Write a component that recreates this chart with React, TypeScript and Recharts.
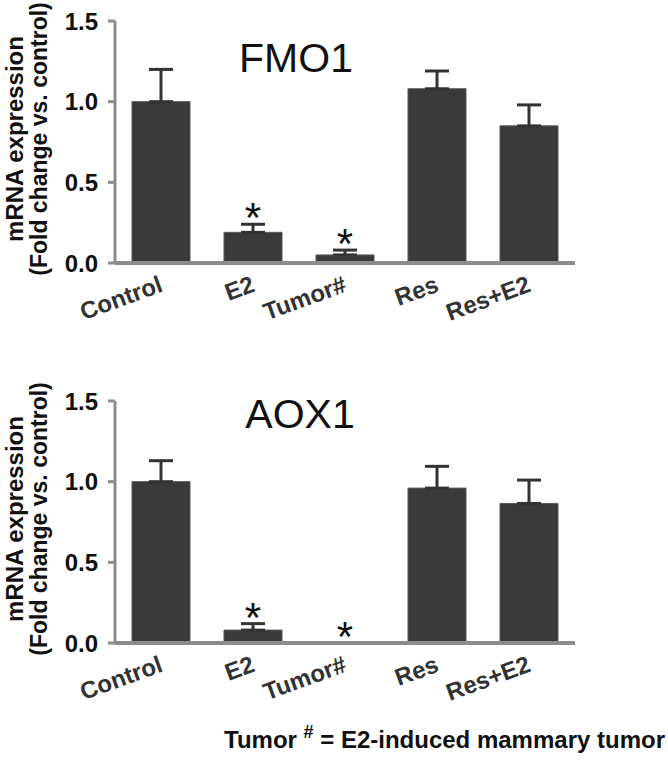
import { Bar, ComposedChart, ErrorBar, Line, XAxis, YAxis } from "recharts";

const groups = ["Control", "E2", "Tumor#", "Res", "Res+E2"];

const fmo1Mean = [1.0, 0.19, 0.05, 1.08, 0.85];
const fmo1Err = [0.2, 0.05, 0.03, 0.11, 0.13];
const fmo1Sig = [false, true, true, false, false];

const aox1Mean = [1.0, 0.08, 0.003, 0.96, 0.865];
const aox1Err = [0.13, 0.04, 0, 0.135, 0.145];
const aox1Sig = [false, true, true, false, false];

const yTicks = [0, 0.5, 1.0, 1.5];

const FONT = '"Liberation Sans", Arial, sans-serif';
const AXIS = "#8c8c8c";
const BAR = "#3a3a3a";

function buildRows(mean: number[], err: number[], sig: boolean[]) {
  return groups.map((g, i) => ({
    group: g,
    mean: mean[i],
    err: [0, err[i]],
    star: sig[i] ? mean[i] + err[i] : null,
  }));
}

const fmo1Data = buildRows(fmo1Mean, fmo1Err, fmo1Sig);
const aox1Data = buildRows(aox1Mean, aox1Err, aox1Sig);

function GroupTick(props: any) {
  const { x, y, payload } = props;
  return (
    <g transform={`translate(${x + 3},${y + 28}) rotate(-20)`}>
      <text
        x={0}
        y={0}
        textAnchor="end"
        fill="#333"
        fontFamily={FONT}
        fontWeight="bold"
        fontSize={24}
      >
        {payload.value}
      </text>
    </g>
  );
}

function Star(props: any) {
  const { cx, cy, index } = props;
  if (cy == null || cx == null) return <g key={`s-${index}`} />;
  return (
    <text
      key={`s-${index}`}
      x={cx}
      y={cy + 8}
      textAnchor="middle"
      fontFamily={FONT}
      fontSize={42}
      fill="#111"
    >
      *
    </text>
  );
}

function Panel({ data }: { data: any[] }) {
  return (
    <ComposedChart
      width={668}
      height={380}
      data={data}
      margin={{ top: 21, right: 93, bottom: 57, left: 0 }}
    >
      <XAxis
        dataKey="group"
        height={60}
        interval={0}
        tickLine={false}
        tickSize={0}
        tickMargin={0}
        axisLine={{ stroke: AXIS, strokeWidth: 4 }}
        tick={<GroupTick />}
      />
      <YAxis
        width={115}
        domain={[0, 1.5]}
        ticks={yTicks}
        interval={0}
        tickFormatter={(v: number) => v.toFixed(1)}
        tickSize={7}
        tickMargin={10}
        axisLine={{ stroke: AXIS, strokeWidth: 3 }}
        tickLine={{ stroke: AXIS, strokeWidth: 3 }}
        tick={{ fill: "#111", fontSize: 24, fontWeight: "bold", fontFamily: FONT }}
      />
      <Bar dataKey="mean" fill={BAR} stroke="#555" strokeWidth={1} barSize={58} isAnimationActive={false}>
        <ErrorBar dataKey="err" direction="y" width={12} strokeWidth={3} stroke="#333" />
      </Bar>
      <Line
        dataKey="star"
        stroke="none"
        dot={(p: any) => <Star {...p} />}
        activeDot={false}
        legendType="none"
        isAnimationActive={false}
      />
    </ComposedChart>
  );
}

function YLabel({ top }: { top: number }) {
  const cy = top + 139;
  return (
    <g fontFamily={FONT} fontWeight="bold" fill="#111" textAnchor="middle">
      <text fontSize={24} transform={`translate(23,${cy}) rotate(-90)`}>mRNA expression</text>
      <text fontSize={23} transform={`translate(47,${cy}) rotate(-90)`}>(Fold change vs. control)</text>
    </g>
  );
}

export default function App() {
  const bottomTop = 380;
  return (
    <div style={{ position: "absolute", left: 0, top: 0, width: 668, height: 765, background: "#fff" }}>
      <div style={{ position: "absolute", left: 0, top: 0 }}>
        <Panel data={fmo1Data} />
      </div>
      <div style={{ position: "absolute", left: 0, top: bottomTop }}>
        <Panel data={aox1Data} />
      </div>
      <svg
        width={668}
        height={765}
        style={{ position: "absolute", left: 0, top: 0, pointerEvents: "none" }}
      >
        <YLabel top={0} />
        <YLabel top={bottomTop} />
        <text x={296} y={72} textAnchor="middle" fontFamily={FONT} fontSize={41} fill="#111">
          FMO1
        </text>
        <text x={300} y={bottomTop + 48} textAnchor="middle" fontFamily={FONT} fontSize={41} fill="#111">
          AOX1
        </text>
        <text x={665} y={748} textAnchor="end" fontFamily={FONT} fontWeight="bold" fontSize={24} fill="#111">
          Tumor <tspan dy={-10} fontSize={18}>#</tspan>
          <tspan dy={10}> = E2-induced mammary tumor</tspan>
        </text>
      </svg>
    </div>
  );
}
